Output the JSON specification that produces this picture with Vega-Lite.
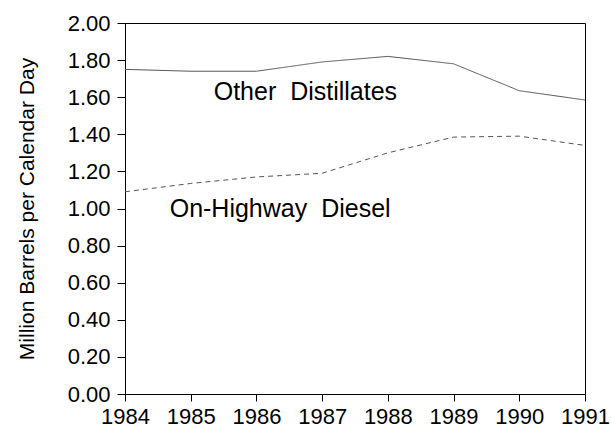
{
  "$schema": "https://vega.github.io/schema/vega-lite/v6.json",
  "autosize": "none",
  "width": 460,
  "height": 371,
  "padding": {"left": 125, "top": 23, "right": 27, "bottom": 38},
  "background": "white",
  "config": {
    "font": "Liberation Sans",
    "view": {"stroke": "black", "strokeWidth": 1},
    "axis": {"grid": false, "domainColor": "black", "tickColor": "black", "labelColor": "black", "titleColor": "black", "labelFont": "Liberation Sans", "titleFont": "Liberation Sans"}
  },
  "datasets": {
    "series": [
      {"year": 1984, "value": 1.75, "series": "Other Distillates"},
      {"year": 1985, "value": 1.74, "series": "Other Distillates"},
      {"year": 1986, "value": 1.74, "series": "Other Distillates"},
      {"year": 1987, "value": 1.79, "series": "Other Distillates"},
      {"year": 1988, "value": 1.82, "series": "Other Distillates"},
      {"year": 1989, "value": 1.78, "series": "Other Distillates"},
      {"year": 1990, "value": 1.635, "series": "Other Distillates"},
      {"year": 1991, "value": 1.585, "series": "Other Distillates"},
      {"year": 1984, "value": 1.09, "series": "On-Highway Diesel"},
      {"year": 1985, "value": 1.135, "series": "On-Highway Diesel"},
      {"year": 1986, "value": 1.17, "series": "On-Highway Diesel"},
      {"year": 1987, "value": 1.19, "series": "On-Highway Diesel"},
      {"year": 1988, "value": 1.30, "series": "On-Highway Diesel"},
      {"year": 1989, "value": 1.385, "series": "On-Highway Diesel"},
      {"year": 1990, "value": 1.39, "series": "On-Highway Diesel"},
      {"year": 1991, "value": 1.34, "series": "On-Highway Diesel"}
    ],
    "labels": [
      {"year": 1985.35, "value": 1.63, "text": "Other\u00a0\u00a0Distillates"},
      {"year": 1984.68, "value": 1.0, "text": "On-Highway\u00a0\u00a0Diesel"}
    ]
  },
  "encoding": {
    "x": {"field": "year", "type": "quantitative", "scale": {"domain": [1984, 1991], "nice": false, "zero": false},
      "axis": {"values": [1984, 1985, 1986, 1987, 1988, 1989, 1990, 1991], "format": "d", "title": null, "labelFontSize": 22, "tickSize": 7, "labelPadding": 5, "labelFlush": false, "labelOverlap": false}},
    "y": {"field": "value", "type": "quantitative", "scale": {"domain": [0, 2], "nice": false},
      "axis": {"values": [0, 0.2, 0.4, 0.6, 0.8, 1.0, 1.2, 1.4, 1.6, 1.8, 2.0], "format": ".2f", "title": "Million Barrels per Calendar Day", "titleFontSize": 21, "titleFontWeight": "normal", "labelFontSize": 22, "tickSize": 8, "labelPadding": 7, "titlePadding": 30, "labelFlush": false, "labelOverlap": false}}
  },
  "layer": [
    {
      "data": {"name": "series"},
      "mark": {"type": "line", "strokeWidth": 1, "clip": true},
      "encoding": {
        "color": {"field": "series", "type": "nominal", "scale": {"domain": ["Other Distillates", "On-Highway Diesel"], "range": ["#555555", "#555555"]}, "legend": null},
        "strokeDash": {"field": "series", "type": "nominal", "scale": {"domain": ["Other Distillates", "On-Highway Diesel"], "range": [[1, 0], [5, 4]]}, "legend": null}
      }
    },
    {
      "data": {"name": "labels"},
      "mark": {"type": "text", "align": "left", "baseline": "middle", "fontSize": 25, "color": "black"},
      "encoding": {
        "text": {"field": "text"}
      }
    }
  ]
}
